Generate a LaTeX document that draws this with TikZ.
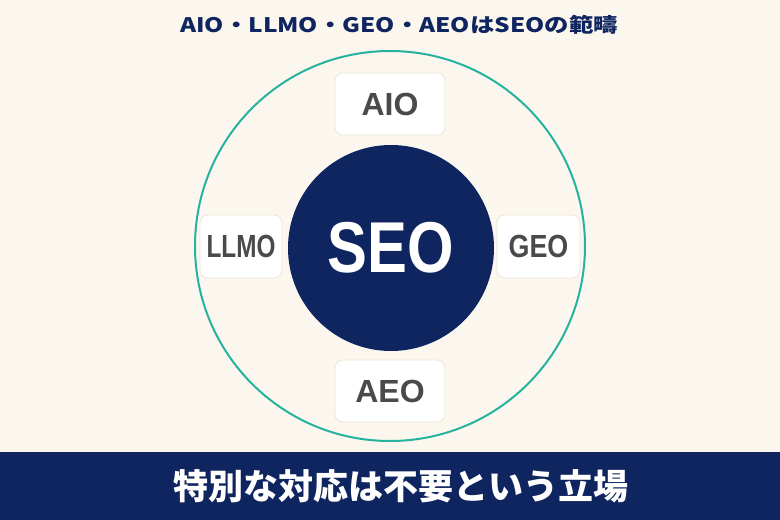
\documentclass[tikz,border=0pt]{standalone}
\usepackage{fontspec}
\setmainfont{Liberation Sans}
\newfontfamily\jpfont{Noto Sans CJK JP}
\definecolor{bgcream}{RGB}{251,247,238}
\definecolor{navyblue}{RGB}{15,37,96}
\definecolor{tealline}{RGB}{38,178,158}
\definecolor{labelgray}{RGB}{74,74,74}
\definecolor{boxline}{RGB}{236,230,218}
% squeeze a label horizontally
\newcommand{\squeezed}[2]{\scalebox{#1}[1]{#2}}
\begin{document}
\begin{tikzpicture}[x=1pt,y=-1pt,
		termbox/.style={draw=boxline,line width=0.8pt,fill=white,rounded corners=8pt,inner sep=0pt,
			font=\fontsize{32}{34}\selectfont\bfseries,text=labelgray},
		core/.style={circle,fill=navyblue,minimum size=206pt,inner sep=0pt,
			font=\fontsize{72}{74}\selectfont\bfseries,text=white}
	]
	\useasboundingbox (0,0) rectangle (780,520);
	\fill[bgcream] (0,0) rectangle (780,520);
	\node[font=\jpfont\bfseries\fontsize{20}{22}\selectfont,text=navyblue] (title) at (399,25)
		{\squeezed{1.22}{AIO・LLMO・GEO・AEOはSEOの範疇}};
	\draw[tealline,line width=2pt] (390,246) circle[radius=195];
	\node[core] (seo) at (391,248) {\squeezed{0.83}{SEO}};
	\node[termbox,minimum width=110pt,minimum height=62pt] (aio) at (390,104) {AIO};
	\node[termbox,minimum width=82pt,minimum height=63pt] (llmo) at (241,246.5) {\squeezed{0.76}{LLMO}};
	\node[termbox,minimum width=83pt,minimum height=63pt] (geo) at (538.5,246.5) {\squeezed{0.84}{GEO}};
	\node[termbox,minimum width=110pt,minimum height=62pt] (aeo) at (390,391) {AEO};
	% banner
	\fill[navyblue] (0,452) rectangle (780,520);
	\node[font=\jpfont\bfseries\fontsize{35}{38}\selectfont,text=white] (stance) at (401,486) {特別な対応は不要という立場};
\end{tikzpicture}
\end{document}
